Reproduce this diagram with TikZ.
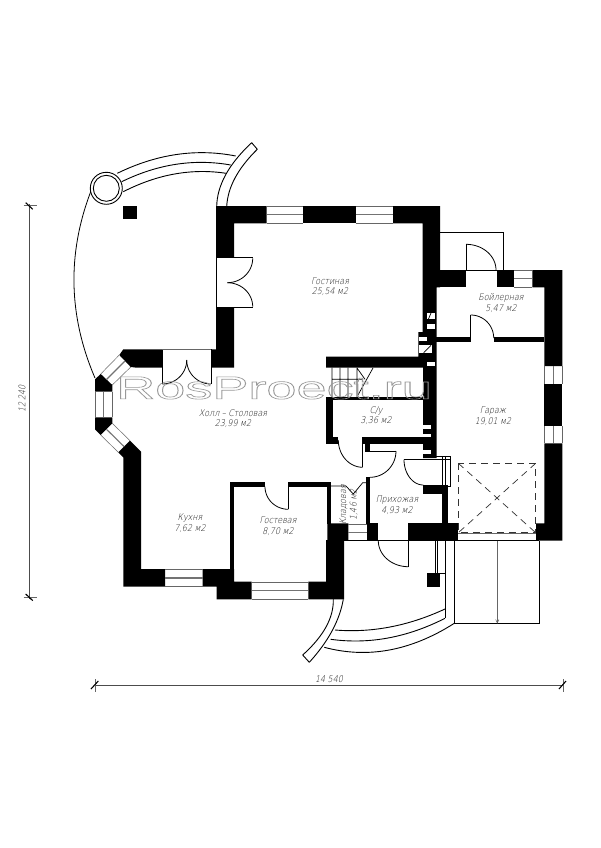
\documentclass[tikz,border=0pt]{standalone}
\usepackage{fontspec}
\setmainfont{Liberation Sans}
\newfontfamily\labf[FakeSlant=0.22,FakeStretch=0.86]{DejaVu Sans ExtraLight}
\tikzset{
  wall/.style={fill=black,draw=none},
  thinl/.style={draw=black,line width=0.7pt},
  doorl/.style={draw=black,line width=0.8pt},
  winl/.style={draw=black!60,line width=0.5pt},
  winm/.style={draw=black!55,line width=1.1pt},
  rail/.style={draw=black,line width=0.9pt},
  diml/.style={draw=black!70,line width=0.6pt},
  dimt/.style={draw=black,line width=1.1pt},
  dashl/.style={draw=black!80,line width=0.7pt,dash pattern=on 7pt off 5pt},
  lab/.style={font=\fontsize{9.2}{10.4}\selectfont\labf,text=black!90,align=center,inner sep=0pt},
  flue/.style={fill=white,draw=none}
}
% door swing: centre, radii, start and end angle
\newcommand\dswing[6]{\draw[doorl,domain=#5:#6,samples=24,smooth,variable=\t] plot ({#1+#3*cos(\t)},{#2+#4*sin(\t)});}
% curve through three points
\newcommand\qc[7][rail]{\draw[#1] (#2,#3) .. controls ({4/3*#4-#6/3},{4/3*#5-#7/3}) and ({4/3*#4-#2/3},{4/3*#5-#3/3}) .. (#6,#7);}
% horizontal run window, vertical run window
\newcommand\hwin[4]{\draw[winl] (#1,#3)--(#2,#3) (#1,#4)--(#2,#4); \draw[winm] (#1,{(#3+#4)/2})--(#2,{(#3+#4)/2});}
\newcommand\vwin[4]{\draw[winl] (#1,#3)--(#1,#4) (#2,#3)--(#2,#4); \draw[winm] ({(#1+#2)/2},#3)--({(#1+#2)/2},#4);}
\begin{document}
\begin{tikzpicture}[x=1pt,y=-1pt]
\useasboundingbox (0,0) rectangle (600,848);
\fill[white] (0,0) rectangle (600,848);

% ---------- terrace
\qc[doorl]{90.7}{191.7}{74}{285}{95}{378}
\qc{117.3}{173.3}{176.5}{154.5}{235.7}{156}
\qc{121.7}{181.7}{176}{164.3}{230.7}{165}
\qc{123.3}{191.7}{174.6}{174}{226}{173.3}
\qc{251.7}{142.7}{225.7}{174.7}{216.7}{206.7}
\qc{257.3}{149.3}{235}{178}{226.7}{206.7}
\draw[rail] (251.7,142.7)--(257.3,149.3);
\draw[rail] (106.3,188.3) circle (16);
\draw[rail] (106.3,188.3) circle (13);
\fill[wall] (123.3,205.7) rectangle (137.3,219.3);

% ---------- black walls
% living room shell
\fill[wall] (216,206) -- (266.7,206) -- (266.7,223.3) -- (234,223.3) -- (234,257.7) -- (216,257.7) -- cycle;
\fill[wall] (303.3,206) rectangle (355.7,223.3);
\fill[wall] (393,206) -- (440,206) -- (440,287.3) -- (436.5,287.3) -- (436.5,458) -- (423,458) -- (423,367.5) -- (326,367.5) -- (326,356.7) -- (418.3,356.7) -- (418.3,332) -- (422.7,332) -- (422.7,223.3) -- (393,223.3) -- cycle;
\fill[wall] (216,307.3) -- (234,307.3) -- (234,367.5) -- (211,367.5) -- (211,349.3) -- (216,349.3) -- cycle;
% chamfered bay
\fill[wall] (123.3,349.3) -- (162,349.3) -- (162,367.5) -- (135,367.5) -- (130.7,367) -- (119.3,355) -- cycle;
\fill[wall] (100.7,374) -- (95,379.3) -- (95,391.7) -- (112.3,391.7) -- (112.3,385) -- cycle;
\fill[wall] (95,417.3) -- (112.3,417.3) -- (112.3,423.3) -- (100.7,435) -- (95,429.3) -- cycle;
\fill[wall] (130,440.7) -- (141,451.7) -- (141,569) -- (165,569) -- (165,586.7) -- (123.3,586.7) -- (123.3,457.3) -- (118.3,452.3) -- cycle;
% bottom run
\fill[wall] (202.7,569) -- (234,569) -- (234,581.7) -- (251.7,581.7) -- (251.7,599.3) -- (216.7,599.3) -- (216.7,586.7) -- (202.7,586.7) -- cycle;
\fill[wall] (230,486) rectangle (234,570);
\fill[wall] (230,482) rectangle (265,486.7);
\fill[wall] (288.3,482) rectangle (330,486.7);
\fill[wall] (326.5,482) rectangle (330.7,524);
\fill[wall] (327.3,523.3) -- (348.3,523.3) -- (348.3,540.7) -- (344,540.7) -- (344,599.3) -- (308.3,599.3) -- (308.3,581.7) -- (326,581.7) -- (326,540) -- (327.3,540) -- cycle;
\fill[wall] (367.3,523.3) rectangle (378.3,540.7);
\fill[wall] (366,477) rectangle (370,524);
\fill[wall] (408.3,523.3) rectangle (458,540.7);
\fill[wall] (423.3,485) rectangle (448.3,494);
\fill[wall] (441.7,485) rectangle (448.3,524);
% S/U
\fill[wall] (326,396.7) rectangle (423.5,400);
\fill[wall] (326,396.7) rectangle (332.7,444);
\fill[wall] (326,437.3) rectangle (338.3,444);
\fill[wall] (362.7,437.3) rectangle (423.5,444);
\fill[wall] (365,444) rectangle (370,450.7);
% boiler and garage shell
\fill[wall] (440,270) rectangle (466,287.3);
\fill[wall] (496.7,270) rectangle (514.3,287.3);
\fill[wall] (532.3,270) -- (562.3,270) -- (562.3,366) -- (544.3,366) -- (544.3,287.3) -- (532.3,287.3) -- cycle;
\fill[wall] (544.3,384) rectangle (562.3,426);
\fill[wall] (544.3,443.3) -- (562.3,443.3) -- (562.3,540.7) -- (536,540.7) -- (536,523.3) -- (544.3,523.3) -- cycle;
\fill[wall] (436,337.3) rectangle (470.7,342.3);
\fill[wall] (494.3,337.3) rectangle (544.3,342.3);

% ---------- flues
\fill[flue] (427.3,312.7) rectangle (435,319.3);
\fill[flue] (427.3,324.3) rectangle (435,328.7);
\fill[flue] (419.3,336.7) rectangle (427.3,340.7);
\fill[flue] (419.3,345) rectangle (431.7,353.3);
\fill[flue] (427.3,362) rectangle (435,365.7);
\fill[flue] (423.3,425.3) rectangle (430.7,429.3);
\fill[flue] (423.3,434) rectangle (430.7,437.3);
\fill[flue] (423.3,450) rectangle (430.7,454);
\draw[thinl] (423.5,353) -- (431,345.3);
\draw[thinl] (428.5,319) -- (431,313);

% ---------- windows
\hwin{266.7}{303.3}{206.5}{223}
\hwin{355.7}{393}{206.5}{223}
\hwin{514.3}{532.3}{270.5}{287}
\hwin{165}{202.7}{569.5}{586.5}
\hwin{251.7}{308.3}{582}{599}
\hwin{348.3}{367.3}{524}{540.5}
\vwin{544.6}{562}{366}{384}
\vwin{544.6}{562}{426}{443.3}
\vwin{95.3}{112}{391.7}{417.3}
\draw[winl] (119.3,355)--(100.7,374) (130.7,367)--(112.3,385);
\draw[winm] (125,361)--(106.5,379.5);
\draw[winl] (100.7,435)--(118.3,452.3) (112.3,423.3)--(130,440.7);
\draw[winm] (106.5,429.3)--(124,446.5);

% ---------- doors
\draw[doorl] (252.7,257.7)--(216.7,257.7)--(216.7,307)--(252.7,307);
\dswing{227.3}{258.3}{25.4}{24.4}{0}{90}
\dswing{227.3}{306.7}{25.4}{24}{0}{-90}
\draw[doorl] (162.3,384)--(162.3,349.3) (211,349.3)--(211,384);
\draw[winl] (162.3,349.3)--(211,349.3);
\dswing{162.3}{360}{24.4}{24}{90}{0}
\dswing{211}{360}{24.3}{24}{90}{180}
\draw[doorl] (288.3,482)--(288.3,509.3);
\dswing{288.3}{486.7}{23.3}{22.6}{180}{90}
\draw[doorl] (466,244.3)--(466,270)--(496.7,270);
\dswing{466}{270}{30}{25.7}{-90}{0}
\draw[doorl] (470.7,315)--(470.7,342);
\dswing{470.7}{338}{23}{23}{-90}{0}
\draw[doorl] (362.7,437)--(362.7,467.3);
\dswing{362.7}{440}{24.4}{27.3}{180}{90}
\draw[doorl] (365,451)--(396,451);
\dswing{370}{451}{26}{26.3}{0}{90}
\draw[doorl] (404,459.3)--(450.7,459.3);
\dswing{423.3}{459.5}{19.3}{25.5}{180}{90}
\draw[doorl] (408.3,540.7)--(408.3,567);
\dswing{408.3}{540.7}{30}{26}{180}{90}
\draw[thinl] (330.7,486)--(346,486)--(353.3,494)--(362.7,482.7)--(366,482.7);

% ---------- porch of the boiler room
\draw[thinl] (440,232.3)--(503.7,232.3)--(503.7,270);

% ---------- stairs
\draw[thinl] (332,367.5)--(332,397) (340,367.5)--(340,397) (348,367.5)--(348,397) (357,367.5)--(357,397)
  (332,379.3)--(363,379.3) (357,368)--(365,379.3) (373,368)--(358,395);

% ---------- garage steps and gate
\draw[thinl] (436,456.7)--(450.7,456.7)--(450.7,486.7)--(448,486.7);
\draw[thinl] (442.7,456.7)--(442.7,485) (445,456.7)--(445,485);
\draw[dashl] (458.3,463.3) rectangle (535.7,532.7);
\draw[dashl] (458.3,463.3)--(535.7,532.7) (535.7,463.3)--(458.3,532.7);
\draw[winl] (458,533.3)--(536,533.3);

% ---------- entrance porch
\draw[thinl] (344,540.7)--(539,540.7);
\draw[thinl] (539,540.7)--(539,623.3)--(454.3,623.3);
\draw[rail] (445,540.7)--(445,618.3);
\draw[rail] (454.3,540.7)--(454.3,623.3);
\draw[rail] (435,540.7)--(435,573.3) (437.7,540.7)--(437.7,573.3) (440,573.5)--(445,573.5);
\fill[wall] (426.7,573.3) rectangle (440,586.7);
\draw[winl] (497.3,540.7)--(497.3,623.3);
\draw[winl] (495.7,619.5)--(497.3,623)--(499,619.5);
\qc{335}{630}{390}{627}{445}{609}
\qc{330.7}{639.3}{388}{638}{445}{618.3}
\qc{324.3}{647.3}{389.3}{650}{454.3}{623.3}
\qc{333.3}{599.3}{326}{627}{302.7}{655}
\qc{343.3}{599.3}{332}{631}{309.3}{662.3}
\draw[rail] (302.7,655)--(309.3,662.3);

% ---------- dimensions
\draw[diml] (95,685.3)--(562,685.3);
\draw[winl] (95,679)--(95,692) (563,679)--(563,692);
\draw[dimt] (91,689)--(98.3,681) (559,689)--(566,681);
\draw[diml] (29.3,204)--(29.3,599);
\draw[winl] (23.5,205.7)--(36.5,205.7) (23.5,597)--(36.5,597);
\draw[dimt] (25.7,202.7)--(32.7,209.3) (25.7,594)--(32.7,600.6);
\node[lab] (dimw) at (329,679.5) {14 540};
\node[lab,rotate=90] (dimh) at (22,399) {12 240};

% ---------- room labels
\node[lab] (r1) at (330,286.5) {Гостиная\\25,54 м2};
\node[lab] (r2) at (501,303) {Бойлерная\\5,47 м2};
\node[lab] (r3) at (233,418.5) {Холл – Столовая\\23,99 м2};
\node[lab] (r4) at (376,415.5) {С/у\\3,36 м2};
\node[lab] (r5) at (493,416) {Гараж\\19,01 м2};
\node[lab] (r6) at (190,523) {Кухня\\7,62 м2};
\node[lab] (r7) at (278,526) {Гостевая\\8,70 м2};
\node[lab] (r8) at (397,505) {Прихожая\\4,93 м2};
\node[lab,rotate=90] (r9) at (348.5,505) {Кладовая\\1,46 м2};

% ---------- watermark
\node[inner sep=0pt,text=black!45,xscale=1.69,font=\fontsize{32}{32}\selectfont] (mark) at (274,388)
  {\special{pdf:code 1 Tr 0.6 w 0.6 G}RosProect.ru\special{pdf:code 0 Tr 0 G}};
\end{tikzpicture}
\end{document}
